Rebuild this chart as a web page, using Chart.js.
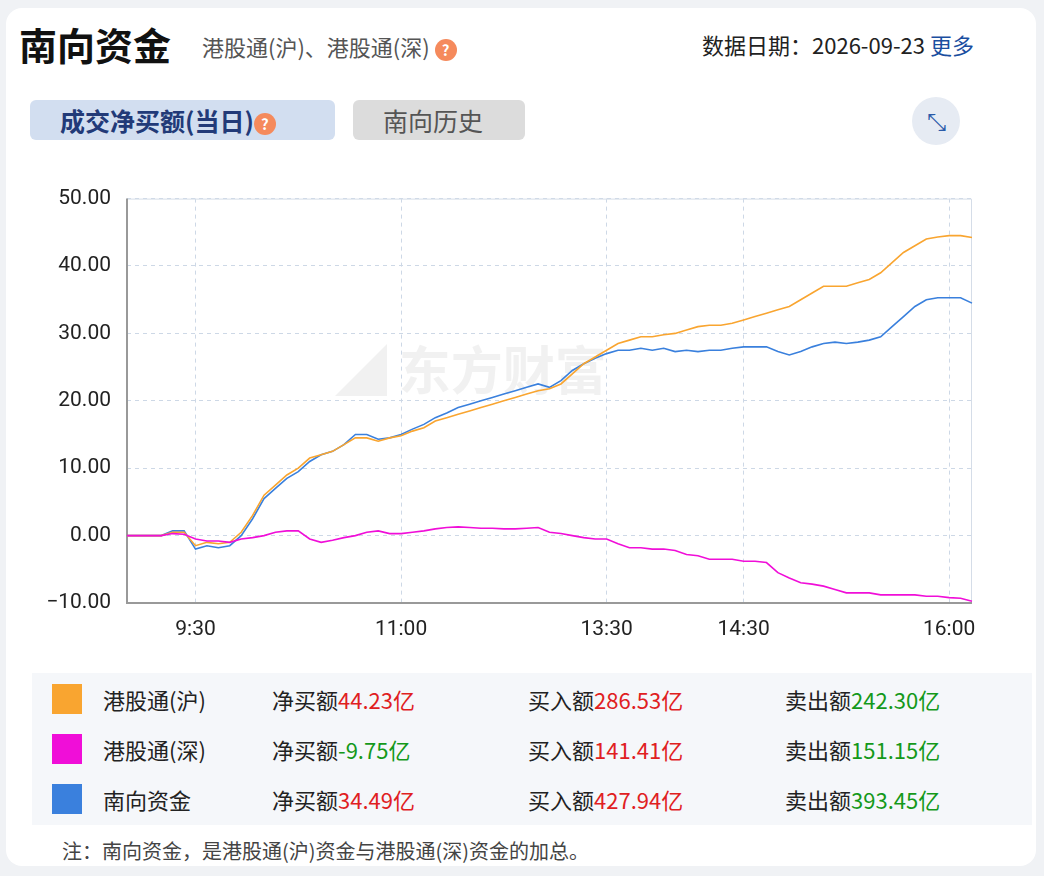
<!DOCTYPE html>
<html><head><meta charset="utf-8">
<script src="https://cdn.jsdelivr.net/npm/chart.js@4/dist/chart.umd.min.js"></script>
<style>
body{margin:0;background:#f0f2f5;font-family:"Noto Sans CJK SC","Noto Sans",sans-serif;}
#card{position:absolute;left:6px;top:8px;width:1030px;height:858px;background:#fff;border-radius:16px;}
.abs{position:absolute;white-space:nowrap;}
.q{display:inline-block;width:22px;height:22px;border-radius:11px;background:#f58a5c;color:#fff;font-size:15px;text-align:center;line-height:22px;font-weight:bold;vertical-align:middle;}
.sw{position:absolute;width:30px;height:30px;}
.row{position:absolute;font-size:22px;color:#222;}
.r{color:#e0201f}.g{color:#14991a}
</style></head><body>
<div id="card"></div>
<div class="abs" style="left:19px;top:16px;font-size:38px;font-weight:bold;color:#111">南向资金</div>
<div class="abs" style="left:202px;top:30px;font-size:22px;color:#555">港股通(沪)、港股通(深) <span class="q">?</span></div>
<div class="abs" style="left:702px;top:28px;font-size:22px;color:#222">数据日期：2026-09-23 <span style="color:#1a4ea0">更多</span></div>
<div class="abs" style="left:30px;top:100px;width:305px;height:40px;background:#d2def0;border-radius:6px;"></div>
<div class="abs" style="left:60px;top:102px;font-size:25px;font-weight:bold;color:#223a78">成交净买额(当日)<span class="q">?</span></div>
<div class="abs" style="left:353px;top:100px;width:172px;height:40px;background:#dcdcdc;border-radius:6px;"></div>
<div class="abs" style="left:383px;top:102px;font-size:25px;color:#555">南向历史</div>
<div class="abs" style="left:912px;top:97px;width:48px;height:48px;background:#e6ebf3;border-radius:24px;text-align:center;line-height:46px;font-size:24px;color:#2a5aa8">⤡</div>
<div class="abs" style="left:335px;top:330px;font-size:52px;font-weight:bold;color:rgba(200,200,200,0.25)">◢ 东方财富</div>
<div class="abs" style="left:30px;top:170px;width:960px;height:480px;"><canvas id="c"></canvas></div>
<div class="abs" style="left:32px;top:673px;width:1000px;height:152px;background:#f5f7fa;"></div>
<div class="sw" style="left:52px;top:684px;background:#f9a530"></div>
<div class="sw" style="left:52px;top:734px;background:#f00ed8"></div>
<div class="sw" style="left:52px;top:784px;background:#3a80dd"></div>
<div class="row" style="left:103px;top:683px">港股通(沪)</div>
<div class="row" style="left:272px;top:683px">净买额<span class="r">44.23亿</span></div>
<div class="row" style="left:528px;top:683px">买入额<span class="r">286.53亿</span></div>
<div class="row" style="left:785px;top:683px">卖出额<span class="g">242.30亿</span></div>
<div class="row" style="left:103px;top:733px">港股通(深)</div>
<div class="row" style="left:272px;top:733px">净买额<span class="g">-9.75亿</span></div>
<div class="row" style="left:528px;top:733px">买入额<span class="r">141.41亿</span></div>
<div class="row" style="left:785px;top:733px">卖出额<span class="g">151.15亿</span></div>
<div class="row" style="left:103px;top:783px">南向资金</div>
<div class="row" style="left:272px;top:783px">净买额<span class="r">34.49亿</span></div>
<div class="row" style="left:528px;top:783px">买入额<span class="r">427.94亿</span></div>
<div class="row" style="left:785px;top:783px">卖出额<span class="g">393.45亿</span></div>
<div class="abs" style="left:62px;top:836px;font-size:20px;color:#444">注：南向资金，是港股通(沪)资金与港股通(深)资金的加总。</div>
<script>
const times = ["9:00","9:05","9:10","9:15","9:20","9:25","9:30","9:35","9:40","9:45","9:50","9:55",
"10:00","10:05","10:10","10:15","10:20","10:25","10:30","10:35","10:40","10:45","10:50","10:55",
"11:00","11:05","11:10","11:15","11:20","11:25","11:30","11:35","11:40","11:45","11:50","11:55","12:00",
"13:05","13:10","13:15","13:20","13:25","13:30","13:35","13:40","13:45","13:50","13:55",
"14:00","14:05","14:10","14:15","14:20","14:25","14:30","14:35","14:40","14:45","14:50","14:55",
"15:00","15:05","15:10","15:15","15:20","15:25","15:30","15:35","15:40","15:45","15:50","15:55",
"16:00","16:05","16:10"];
const tickLabels = ["9:30","11:00","13:30","14:30","16:00"];
const sh = [0,0,0,0,0.5,0.5,-1.5,-1,-1.2,-1,0.5,3,
6,7.5,9,10,11.5,12,12.5,13.5,14.5,14.5,14,14.5,
14.8,15.5,16,17,17.5,18,18.5,19,19.5,20,20.5,21,21.5,
21.8,22.5,24,25.5,26.5,27.5,28.5,29,29.5,29.5,29.8,
30,30.5,31,31.2,31.2,31.5,32,32.5,33,33.5,34,35,
36,37,37,37,37.5,38,39,40.5,42,43,44,44.3,
44.5,44.5,44.23];
const sz = [0,0,0,0,0.3,0.2,-0.5,-0.8,-0.8,-1,-0.5,-0.3,
0,0.5,0.7,0.7,-0.5,-1,-0.7,-0.3,0,0.5,0.7,0.3,
0.3,0.5,0.7,1,1.2,1.3,1.2,1.1,1.1,1,1,1.1,1.2,
0.5,0.3,0,-0.3,-0.5,-0.5,-1.2,-1.8,-1.8,-2,-2,
-2.2,-2.8,-3,-3.5,-3.5,-3.5,-3.8,-3.8,-4,-5.5,-6.3,-7,
-7.2,-7.5,-8,-8.5,-8.5,-8.5,-8.8,-8.8,-8.8,-8.8,-9,-9,
-9.2,-9.3,-9.75];
const south = [0,0,0,0,0.7,0.7,-2,-1.5,-1.8,-1.5,0,2.5,
5.5,7,8.5,9.5,11,12,12.5,13.5,15,15,14.3,14.5,
15,15.8,16.5,17.5,18.2,19,19.5,20,20.5,21,21.5,22,22.5,
22,23,24.5,25.5,26.3,27,27.5,27.5,27.8,27.5,27.8,
27.3,27.5,27.3,27.5,27.5,27.8,28,28,28,27.3,26.8,27.3,
28,28.5,28.7,28.5,28.7,29,29.5,31,32.5,34,35,35.3,
35.3,35.3,34.49];
const yTicks = [50,40,30,20,10,0,-10];
const ds = (d,c)=>({data:d,borderColor:c,borderWidth:1.6,pointRadius:0,tension:0,fill:false});
new Chart(document.getElementById('c'),{type:'line',
data:{labels:times,datasets:[ds(sz,'#f00ed8'),ds(sh,'#f9a530'),ds(south,'#3a80dd')]},
options:{responsive:true,maintainAspectRatio:false,animation:false,
layout:{padding:{top:25,right:18,left:0,bottom:0}},
plugins:{legend:{display:false},tooltip:{enabled:false}},
scales:{
x:{offset:false,afterFit:s=>{s.height=47;},
 border:{display:false,dash:[4,4]},
 grid:{drawTicks:false,color:c=>tickLabels.includes(times[c.index])?'#cdd8e6':'rgba(0,0,0,0)'},
 ticks:{autoSkip:false,maxRotation:0,padding:14,color:'#222',font:{size:21,family:'Roboto, sans-serif'},
  callback:(v,i)=>tickLabels.includes(times[i])?times[i]:''}},
y:{min:-10,max:50,afterFit:s=>{s.width=97;},
 afterBuildTicks:s=>{s.ticks=yTicks.map(v=>({value:v}));},
 border:{display:false,dash:[4,4]},
 grid:{drawTicks:false,color:'#cdd8e6'},
 ticks:{padding:16,color:'#222',font:{size:21,family:'Roboto, sans-serif'},callback:v=>v.toFixed(2).replace('-','−')}}
}},
plugins:[{id:'frame',beforeDatasetsDraw(ch){const a=ch.chartArea,x=ch.ctx;x.save();x.setLineDash([]);
x.strokeStyle='#d5dde8';x.lineWidth=1;x.beginPath();x.moveTo(a.left,a.top+0.5);x.lineTo(a.right-0.5,a.top+0.5);x.lineTo(a.right-0.5,a.bottom);x.stroke();
x.strokeStyle='#999';x.lineWidth=2;x.beginPath();x.moveTo(a.left,a.top);x.lineTo(a.left,a.bottom);x.lineTo(a.right,a.bottom);x.stroke();x.restore();}}]
});
</script>
</body></html>
